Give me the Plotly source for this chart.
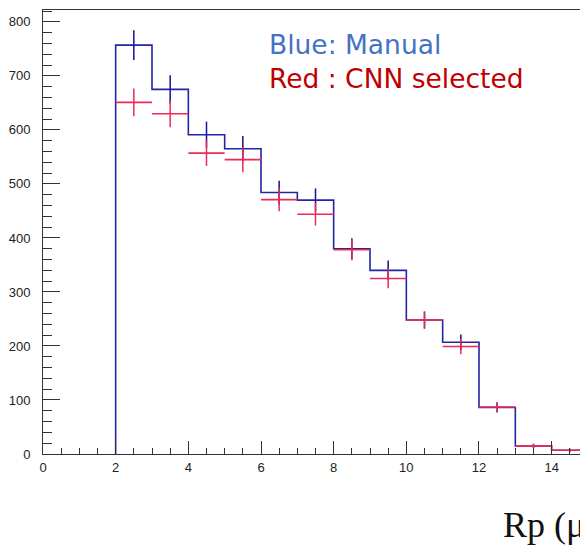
import numpy as np
import plotly.graph_objects as go

# Bin edges of the Rp histogram (um) and bin contents
bin_edges = [2, 3, 4, 5, 6, 7, 8, 9, 10, 11, 12, 13, 14, 15]
manual_counts = [757, 675, 591, 565, 484, 470, 380, 340, 248, 207, 86, 15, 7]
cnn_counts = [651, 630, 557, 545, 471, 444, 378, 325, 248, 199, 87, 15, 7]

x_ticks = [0, 2, 4, 6, 8, 10, 12, 14]
y_ticks = [0, 100, 200, 300, 400, 500, 600, 700, 800]

edges = np.array(bin_edges, dtype=float)
centers = (edges[:-1] + edges[1:]) / 2
half_width = np.diff(edges) / 2
manual = np.array(manual_counts, dtype=float)
cnn = np.array(cnn_counts, dtype=float)
# Poisson uncertainty of each bin
manual_err = np.sqrt(manual)
cnn_err = np.sqrt(cnn)

BLUE_LINE = "#2424a6"
BLUE_ERR = "#10109a"
RED = "#ec2a55"

fig = go.Figure()

# Manual histogram drawn as an outlined step line
step_x = [edges[0]] + list(edges[:-1]) + [edges[-1], edges[-1]]
step_y = [0] + list(manual) + [manual[-1], 0]
fig.add_trace(go.Scatter(
    x=step_x, y=step_y, mode="lines", line_shape="hv",
    line=dict(color=BLUE_LINE, width=1.6), hoverinfo="skip", showlegend=False,
))
fig.add_trace(go.Scatter(
    x=centers, y=manual, mode="markers", marker=dict(size=1, opacity=0, color=BLUE_ERR),
    error_y=dict(type="data", array=manual_err, color=BLUE_ERR, thickness=1.5, width=0),
    showlegend=False,
))

# CNN-selected histogram drawn with error crosses
fig.add_trace(go.Scatter(
    x=centers, y=cnn, mode="markers", marker=dict(size=1, opacity=0, color=RED),
    error_x=dict(type="data", array=half_width, color=RED, thickness=1.6, width=0),
    error_y=dict(type="data", array=cnn_err, color=RED, thickness=1.5, width=0),
    showlegend=False,
))

tick_font = dict(family="Liberation Sans, Arial", size=13, color="#222222")

fig.update_layout(
    width=580, height=546,
    margin=dict(l=43, r=0, t=10, b=92),
    paper_bgcolor="white", plot_bgcolor="white",
    showlegend=False,
    xaxis=dict(
        range=[0, 14.78], tickvals=x_ticks, ticktext=[str(v) for v in x_ticks],
        ticks="inside", ticklen=13, tickwidth=1, tickcolor="#333333",
        minor=dict(ticks="inside", dtick=0.5, ticklen=6, tickwidth=1, tickcolor="#333333"),
        showline=True, linecolor="#333333", linewidth=1, mirror=True,
        showgrid=False, zeroline=False, tickfont=tick_font, ticklabelstandoff=1,
    ),
    yaxis=dict(
        range=[0, 822], tickvals=y_ticks, ticktext=[str(v) for v in y_ticks],
        ticks="inside", ticklen=17, tickwidth=1, tickcolor="#333333",
        minor=dict(ticks="inside", dtick=20, ticklen=9, tickwidth=1, tickcolor="#333333"),
        showline=True, linecolor="#333333", linewidth=1, mirror=False,
        showgrid=False, zeroline=False, tickfont=tick_font, ticklabelstandoff=9,
    ),
    annotations=[
        dict(text=("<span style='color:#4472C4'>Blue: Manual</span><br>"
                   "<span style='color:#C00000'>Red : CNN selected</span>"),
             xref="paper", yref="paper", x=0.417, y=0.883,
             xanchor="left", yanchor="middle", align="left", showarrow=False,
             font=dict(family="DejaVu Sans", size=26.5, color="#C00000")),
        dict(text="Rp (μm)", xref="paper", yref="paper", x=0.853, y=-0.160,
             xanchor="left", yanchor="middle", showarrow=False,
             font=dict(family="Liberation Serif, DejaVu Serif", size=36, color="#111111")),
    ],
)

fig.write_html("out.html", config={"displayModeBar": False})
